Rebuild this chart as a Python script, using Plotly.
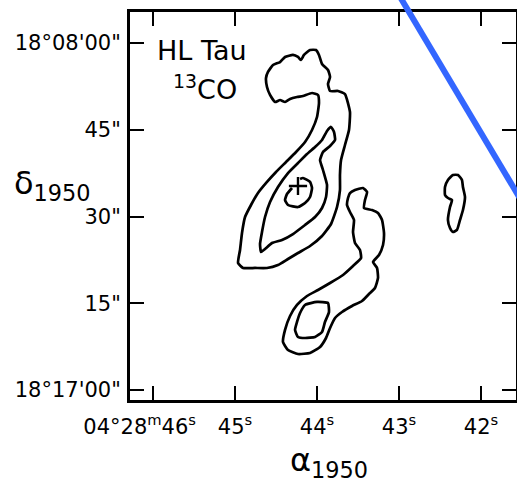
import plotly.graph_objects as go

# 13CO integrated-intensity contours toward HL Tau (B1950 coordinates)
# RA in seconds of time past 04h28m, Dec in arcsec past 18°07'00"

# outer contour, northern complex
north_ra = [44.451, 44.390, 44.293, 44.232, 44.195, 44.159, 44.085, 44.012, 43.976, 43.939,
            43.866, 43.841, 43.866, 43.841, 43.744, 43.659, 43.598, 43.610, 43.659, 43.707,
            43.720, 43.720, 43.756, 43.829, 43.939, 44.085, 44.232, 44.354, 44.476, 44.610,
            44.756, 44.902, 44.963, 44.939, 44.915, 44.878, 44.805, 44.720, 44.610, 44.500,
            44.378, 44.256, 44.146, 44.061, 44.000, 43.976, 43.988, 44.061, 44.171, 44.244,
            44.329, 44.390, 44.451, 44.512, 44.573, 44.610, 44.622, 44.598, 44.537, 44.451]
north_dec = [56.71, 57.58, 57.93, 57.58, 57.06, 57.93, 58.79, 58.79, 57.93, 56.37,
             55.33, 54.12, 52.91, 51.70, 51.70, 51.18, 48.07, 44.96, 42.36, 39.77,
             37.18, 34.58, 31.64, 28.70, 26.63, 24.90, 23.69, 22.65, 21.61, 21.10,
             21.10, 21.10, 21.96, 24.21, 27.15, 29.91, 31.99, 34.06, 35.97, 37.70,
             39.42, 41.15, 42.88, 44.96, 47.20, 49.63, 51.01, 51.35, 50.84, 50.66,
             50.32, 49.80, 50.14, 49.80, 51.01, 52.39, 53.95, 54.99, 56.20, 56.71]

# second contour along the ridge
ridge_ra = [43.829, 43.793, 43.780, 43.841, 43.927, 43.963, 43.927, 43.878, 43.890, 43.939,
            44.024, 44.146, 44.293, 44.427, 44.549, 44.634, 44.683, 44.695, 44.671, 44.634,
            44.573, 44.476, 44.354, 44.232, 44.122, 44.024, 43.939, 43.878, 43.829]
ridge_dec = [45.48, 44.61, 43.23, 42.19, 41.15, 39.77, 38.04, 35.45, 33.37, 31.47,
             29.91, 28.53, 26.97, 25.94, 25.42, 24.38, 23.86, 25.25, 27.32, 29.91,
             32.51, 35.10, 37.52, 39.25, 40.81, 42.02, 43.23, 44.78, 45.48]

# innermost contour around the star
peak_ra = [44.207, 44.171, 44.085, 44.061, 44.085, 44.146, 44.232, 44.354, 44.390, 44.366, 44.305]
peak_dec = [36.48, 36.66, 35.97, 34.93, 33.37, 32.33, 31.64, 31.99, 32.85, 33.89, 34.93]

# southern clump, outer contour
south_ra = [43.598, 43.537, 43.439, 43.390, 43.415, 43.427, 43.329, 43.256, 43.207, 43.183,
            43.195, 43.244, 43.317, 43.268, 43.256, 43.293, 43.366, 43.451, 43.573, 43.695,
            43.780, 43.841, 43.890, 43.963, 44.085, 44.232, 44.354, 44.415, 44.390, 44.329,
            44.244, 44.122, 43.988, 43.841, 43.683, 43.561, 43.463, 43.476, 43.537, 43.561,
            43.549, 43.598, 43.634, 43.622, 43.598]
south_dec = [34.06, 34.58, 34.93, 34.24, 32.85, 31.47, 31.12, 30.61, 29.40, 27.15,
             25.07, 23.34, 22.13, 21.10, 19.37, 17.64, 16.60, 15.39, 14.53, 13.49,
             12.45, 10.72, 8.99, 7.44, 6.40, 6.23, 6.92, 8.30, 10.38, 12.80,
             14.70, 16.25, 17.29, 18.50, 19.89, 21.44, 22.82, 24.21, 25.42, 27.32,
             29.40, 30.78, 31.99, 33.20, 34.06]

# southern clump, inner contour
south_core_ra = [44.146, 44.000, 43.866, 43.854, 43.903, 43.939, 44.024, 44.146, 44.232, 44.268,
                 44.244, 44.207, 44.146]
south_core_dec = [14.70, 15.22, 15.04, 13.49, 11.76, 10.03, 9.17, 8.99, 9.17, 10.38,
                  11.76, 13.32, 14.70]

# small isolated clump to the west
west_ra = [42.342, 42.280, 42.232, 42.220, 42.195, 42.220, 42.256, 42.293, 42.342, 42.378,
           42.403, 42.378, 42.354, 42.403, 42.439, 42.439, 42.403, 42.342]
west_dec = [37.18, 37.18, 36.31, 35.10, 33.37, 31.12, 29.40, 27.67, 27.32, 28.01,
            29.40, 31.64, 32.85, 33.20, 33.72, 35.10, 36.31, 37.18]

# position of HL Tau
star_ra = [44.232]
star_dec = [35.27]

# overlaid straight line (RA, Dec end points)
line_ra = [43.037, 41.476]
line_dec = [69.16, 31.99]

# axis ranges and ticks
x_range = [46.281, 41.573]
y_range = [-1.73, 65.36]
x_ticks = [46, 45, 44, 43, 42]
x_labels = ["04°28<sup>m</sup>46<sup>s</sup>\u00a0\u00a0\u00a0\u00a0", "45<sup>s</sup>",
            "44<sup>s</sup>", "43<sup>s</sup>", "42<sup>s</sup>"]
y_ticks = [0, 15, 30, 45, 60]
y_labels = ["18°17'00\"", "15\"", "30\"", "45\"", "18°08'00\""]

FONT = "DejaVu Sans"
INK = "black"

fig = go.Figure()
contours = [(north_ra, north_dec), (ridge_ra, ridge_dec), (peak_ra, peak_dec),
            (south_ra, south_dec), (south_core_ra, south_core_dec), (west_ra, west_dec)]
for xs, ys in contours:
    fig.add_trace(go.Scatter(x=xs, y=ys, mode="lines",
                             line=dict(color=INK, width=2.7, shape="spline", smoothing=0.45),
                             hoverinfo="skip", showlegend=False))

fig.add_trace(go.Scatter(x=star_ra, y=star_dec, mode="markers",
                         marker=dict(symbol="cross-thin", size=13,
                                     line=dict(color=INK, width=2.4)),
                         showlegend=False))


def to_paper_x(v):
    return (v - x_range[0]) / (x_range[1] - x_range[0])


def to_paper_y(v):
    return (v - y_range[0]) / (y_range[1] - y_range[0])


fig.add_shape(type="line", xref="paper", yref="paper",
              x0=to_paper_x(line_ra[0]), y0=to_paper_y(line_dec[0]),
              x1=to_paper_x(line_ra[1]), y1=to_paper_y(line_dec[1]),
              line=dict(color="#3366ff", width=6), layer="above")

axis_common = dict(showgrid=False, zeroline=False, showline=True, linecolor=INK,
                   linewidth=3, mirror="ticks", ticks="inside", ticklen=14,
                   tickwidth=2.2, tickcolor=INK, automargin=False, tickangle=0,
                   tickfont=dict(family=FONT, size=21, color=INK))

fig.update_xaxes(range=x_range, tickmode="array", tickvals=x_ticks, ticktext=x_labels,
                 ticklabelstandoff=6, **axis_common)
fig.update_yaxes(range=y_range, tickmode="array", tickvals=y_ticks, ticktext=y_labels,
                 ticklabelstandoff=2, **axis_common)

fig.add_annotation(text="HL Tau", xref="paper", yref="paper", x=0.066, y=0.8995,
                   xanchor="left", yanchor="middle", showarrow=False,
                   font=dict(family=FONT, size=27, color=INK))
fig.add_annotation(text="<sup>13</sup>CO", xref="paper", yref="paper", x=0.106, y=0.805,
                   xanchor="left", yanchor="middle", showarrow=False,
                   font=dict(family=FONT, size=27, color=INK))
fig.add_annotation(text="δ<sub>1950</sub>", xref="paper", yref="paper", x=-0.305, y=0.555,
                   xanchor="left", yanchor="middle", showarrow=False,
                   font=dict(family=FONT, size=32, color=INK))
fig.add_annotation(text="α<sub>1950</sub>", xref="paper", yref="paper", x=0.41, y=-0.16,
                   xanchor="left", yanchor="middle", showarrow=False,
                   font=dict(family=FONT, size=32, color=INK))

fig.update_layout(width=517, height=485, margin=dict(l=130, r=1, t=12, b=85),
                  paper_bgcolor="white", plot_bgcolor="white", showlegend=False)

fig.write_html("out.html")
